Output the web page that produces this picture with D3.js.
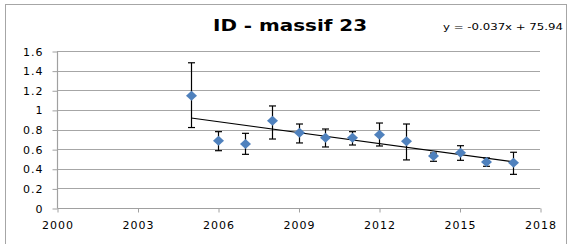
<!DOCTYPE html>
<html><head><meta charset="utf-8">
<script src="https://cdn.jsdelivr.net/npm/d3@7/dist/d3.min.js"></script>
<style>
html,body{margin:0;padding:0;background:#fff;}
svg{display:block;}
</style></head>
<body>
<script>
const years  = [2005,2006,2007,2008,2009,2010,2011,2012,2013,2014,2015,2016,2017];
const values = [1.145,0.686,0.652,0.89,0.768,0.717,0.717,0.747,0.68,0.53,0.564,0.469,0.462];
const errLow = [0.82,0.584,0.547,0.703,0.663,0.622,0.642,0.632,0.49,0.476,0.486,0.425,0.343];
const errHigh= [1.48,0.778,0.761,1.04,0.856,0.805,0.778,0.866,0.856,0.56,0.635,0.51,0.568];
const xTicks = [2000,2003,2006,2009,2012,2015,2018];
const yTicks = [0,0.2,0.4,0.6,0.8,1,1.2,1.4,1.6];
const title = "ID - massif 23";
const equation = "y = -0.037x + 75.94";

const W=568,H=244;
const svg=d3.select("body").append("svg").attr("width",W).attr("height",H);
svg.append("rect").attr("x",5.5).attr("y",4.5).attr("width",561).attr("height",260)
  .attr("fill","#fff").attr("stroke","#a6a6a6").attr("stroke-width",1);

const x=d3.scaleLinear().domain([2000,2018]).range([57,540]);
const y=d3.scaleLinear().domain([0,1.6]).range([208,51]);

// gridlines
svg.append("g").selectAll("line").data(yTicks.filter(d=>d>0)).join("line")
  .attr("x1",57).attr("x2",540).attr("y1",d=>Math.round(y(d))+0.5).attr("y2",d=>Math.round(y(d))+0.5)
  .attr("stroke","#a6a6a6").attr("stroke-width",1.2);

const font="'DejaVu Sans', Verdana, sans-serif";
// y axis
const ya=svg.append("g").attr("transform","translate(57.5,0.5)")
  .call(d3.axisLeft(y).tickValues(yTicks).tickSize(5).tickPadding(9).tickFormat(d=>d3.format("")(d)));
// x axis
const xa=svg.append("g").attr("transform","translate(0.5,"+(Math.round(y(0))+0.5)+")")
  .call(d3.axisBottom(x).tickValues(xTicks).tickSize(4).tickPadding(9).tickFormat(d3.format("d")));
[ya,xa].forEach(g=>{
  g.select(".domain").attr("stroke","#a0a0a0").attr("stroke-width",1.2);
  g.selectAll(".tick line").attr("stroke","#a0a0a0");
  g.selectAll("text").attr("font-family",font).attr("font-size",11).attr("fill","#000")
   .attr("letter-spacing","1px");
});
ya.select(".domain").attr("d","M0,"+Math.round(y(1.6))+"V"+Math.round(y(0)));
xa.select(".domain").attr("d","M"+x(2000)+",0H"+x(2018));

// trendline (least squares)
const mx=d3.mean(years), my=d3.mean(values);
const slope=d3.sum(years,(d,i)=>(d-mx)*(values[i]-my))/d3.sum(years,d=>(d-mx)*(d-mx));
const icpt=my-slope*mx;
const x0=d3.min(years), x1=d3.max(years);
svg.append("line").attr("x1",x(x0)).attr("y1",y(icpt+slope*x0)).attr("x2",x(x1)).attr("y2",y(icpt+slope*x1))
  .attr("stroke","#000").attr("stroke-width",1.1);

// error bars
const eb=svg.append("g").attr("stroke","#000").attr("stroke-width",1.2);
years.forEach((yr,i)=>{
  const cx=Math.round(x(yr))+0.5;
  eb.append("line").attr("x1",cx).attr("x2",cx).attr("y1",y(errLow[i])).attr("y2",y(errHigh[i]));
  eb.append("line").attr("x1",cx-3.5).attr("x2",cx+3.5).attr("y1",y(errLow[i])).attr("y2",y(errLow[i]));
  eb.append("line").attr("x1",cx-3.5).attr("x2",cx+3.5).attr("y1",y(errHigh[i])).attr("y2",y(errHigh[i]));
});

// markers
svg.append("g").selectAll("path").data(years).join("path")
  .attr("transform",(d,i)=>"translate("+(Math.round(x(d))+0.5)+","+y(values[i])+")")
  .attr("d","M0,-5L5.5,0L0,5L-5.5,0Z").attr("fill","#4f81bd");

// title
svg.append("text").attr("x",290).attr("y",31).attr("text-anchor","middle")
  .attr("font-family",font).attr("font-weight","bold").attr("font-size",16)
  .attr("textLength",154).attr("lengthAdjust","spacingAndGlyphs").text(title);
svg.append("text").attr("x",443).attr("y",29.5)
  .attr("font-family",font).attr("font-size",9.5)
  .attr("textLength",120).attr("lengthAdjust","spacingAndGlyphs").text(equation);
</script>
</body></html>
